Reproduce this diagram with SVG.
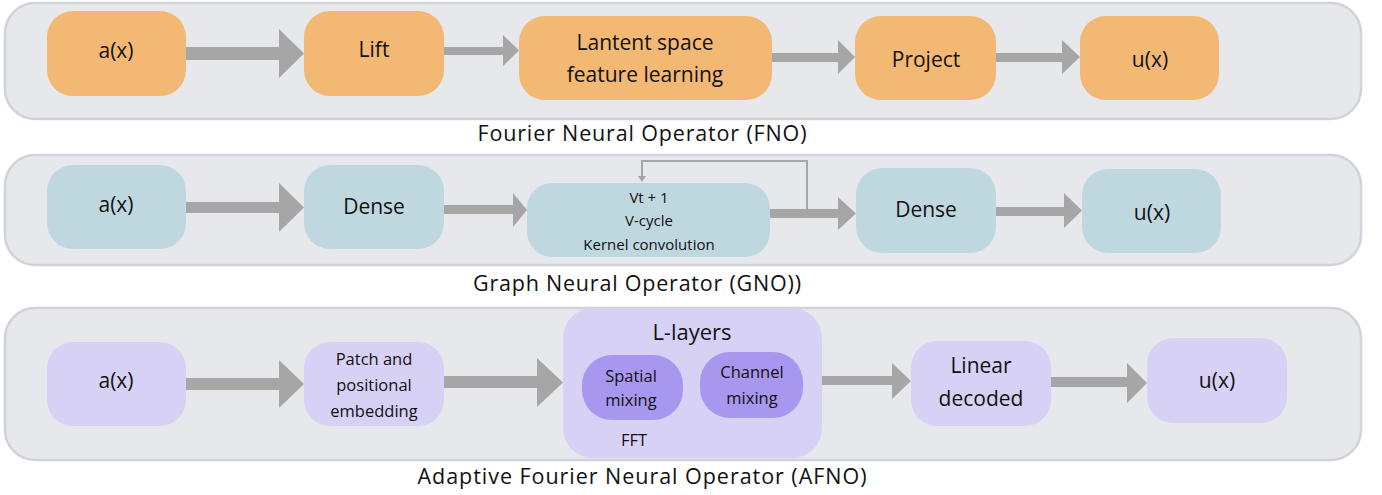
<svg xmlns="http://www.w3.org/2000/svg" width="1382" height="495" viewBox="0 0 1382 495">
<style>
.panel{fill:#e7e8ec;stroke:#d2d2da;stroke-width:2.5}
.o{fill:#f3b874}
.b{fill:#bfd8e0}
.p{fill:#d8d1f6}
.pd{fill:#a897ee}
text{font-family:"Open Sans",Lato,sans-serif;fill:#111;text-anchor:middle}
.t20{font-size:21px}
.t16{font-size:16.5px}
.t14{font-size:15px}
.cap{font-size:21.5px}
.arr{fill:#a6a6a6}
</style>
<rect class="panel" x="5" y="3" width="1356" height="116" rx="30"/>
<rect class="panel" x="5" y="155" width="1356" height="110" rx="30"/>
<rect class="panel" x="5" y="308" width="1356" height="152" rx="30"/>
<text class="cap" x="642" y="141" textLength="329" lengthAdjust="spacing">Fourier Neural Operator (FNO)</text>
<text class="cap" x="637" y="291" textLength="328" lengthAdjust="spacing">Graph Neural Operator (GNO))</text>
<text class="cap" x="642" y="484" textLength="449" lengthAdjust="spacing">Adaptive Fourier Neural Operator (AFNO)</text>
<g id="connectors">
<polygon class="arr" points="186,47 279,47 279,29 304,53.5 279,78 279,60 186,60"/>
<polygon class="arr" points="444,47 503,47 503,35 519,50.5 503,66 503,55 444,55"/>
<polygon class="arr" points="772,53 838,53 838,40 855,57 838,74 838,62 772,62"/>
<polygon class="arr" points="996,53 1062,53 1062,40 1080,57 1062,74 1062,62 996,62"/>
<polygon class="arr" points="186,202 279,202 279,183 304,207.5 279,232 279,213 186,213"/>
<polygon class="arr" points="444,205 513,205 513,193 527,210 513,227 513,214 444,214"/>
<polygon class="arr" points="770,209 838,209 838,197 856,213.5 838,230 838,218 770,218"/>
<polygon class="arr" points="996,207 1064,207 1064,193 1082,210.5 1064,228 1064,216 996,216"/>
<polyline points="807,210 807,161 642,161 642,177" fill="none" stroke="#a6a6a6" stroke-width="2"/>
<polygon class="arr" points="638,176 646,176 642,182"/>
<polygon class="arr" points="186,378 279,378 279,360 304,384 279,408 279,390 186,390"/>
<polygon class="arr" points="444,376 537,376 537,358 563,382.5 537,407 537,388 444,388"/>
<polygon class="arr" points="822,376 892,376 892,363 911,381 892,399 892,385 822,385"/>
<polygon class="arr" points="1051,377 1127,377 1127,363 1147,383 1127,403 1127,387 1051,387"/>
</g>
<g id="fno-ax"><rect class="o" x="47" y="11" width="139" height="85" rx="26"/><text class="t20" x="116" y="58">a(x)</text></g>
<g id="fno-lift"><rect class="o" x="304" y="11" width="140" height="85" rx="26"/><text class="t20" x="374" y="57">Lift</text></g>
<g id="fno-latent"><rect class="o" x="519" y="16" width="253" height="84" rx="26"/><text class="t20" x="645" y="50">Lantent space</text><text class="t20" x="645" y="82">feature learning</text></g>
<g id="fno-project"><rect class="o" x="855" y="16" width="141" height="84" rx="26"/><text class="t20" x="926" y="67">Project</text></g>
<g id="fno-ux"><rect class="o" x="1080" y="16" width="139" height="84" rx="26"/><text class="t20" x="1150" y="67">u(x)</text></g>
<g id="gno-ax"><rect class="b" x="47" y="165" width="139" height="84" rx="26"/><text class="t20" x="116" y="212">a(x)</text></g>
<g id="gno-dense1"><rect class="b" x="304" y="165" width="140" height="84" rx="26"/><text class="t20" x="374" y="214">Dense</text></g>
<g id="gno-kernel"><rect class="b" x="527" y="183" width="243" height="74" rx="25"/><text class="t14" x="649" y="203">Vt + 1</text><text class="t14" x="649" y="226">V-cycle</text><text class="t14" x="649" y="250">Kernel convolution</text></g>
<g id="gno-dense2"><rect class="b" x="856" y="168" width="140" height="85" rx="26"/><text class="t20" x="926" y="217">Dense</text></g>
<g id="gno-ux"><rect class="b" x="1082" y="169" width="139" height="84" rx="26"/><text class="t20" x="1152" y="220">u(x)</text></g>
<g id="afno-ax"><rect class="p" x="47" y="342" width="139" height="84" rx="26"/><text class="t20" x="116" y="388">a(x)</text></g>
<g id="afno-patch"><rect class="p" x="304" y="342" width="140" height="84" rx="26"/><text class="t16" x="374" y="365">Patch and</text><text class="t16" x="374" y="391">positional</text><text class="t16" x="374" y="417">embedding</text></g>
<g id="afno-layers"><rect class="p" x="563" y="308" width="259" height="150" rx="30"/><text x="692" y="340" style="font-size:22px">L-layers</text><text class="t16" x="634" y="446">FFT</text></g>
<g id="afno-spatial"><rect class="pd" x="582" y="355" width="101" height="65" rx="30"/><text class="t16" x="631" y="382">Spatial</text><text class="t16" x="631" y="406">mixing</text></g>
<g id="afno-channel"><rect class="pd" x="700" y="352" width="103" height="66" rx="30"/><text class="t16" x="752" y="378">Channel</text><text class="t16" x="752" y="404">mixing</text></g>
<g id="afno-linear"><rect class="p" x="911" y="341" width="140" height="85" rx="26"/><text class="t20" x="981" y="373">Linear</text><text class="t20" x="981" y="406">decoded</text></g>
<g id="afno-ux"><rect class="p" x="1147" y="338" width="140" height="85" rx="26"/><text class="t20" x="1217" y="388">u(x)</text></g>
</svg>
